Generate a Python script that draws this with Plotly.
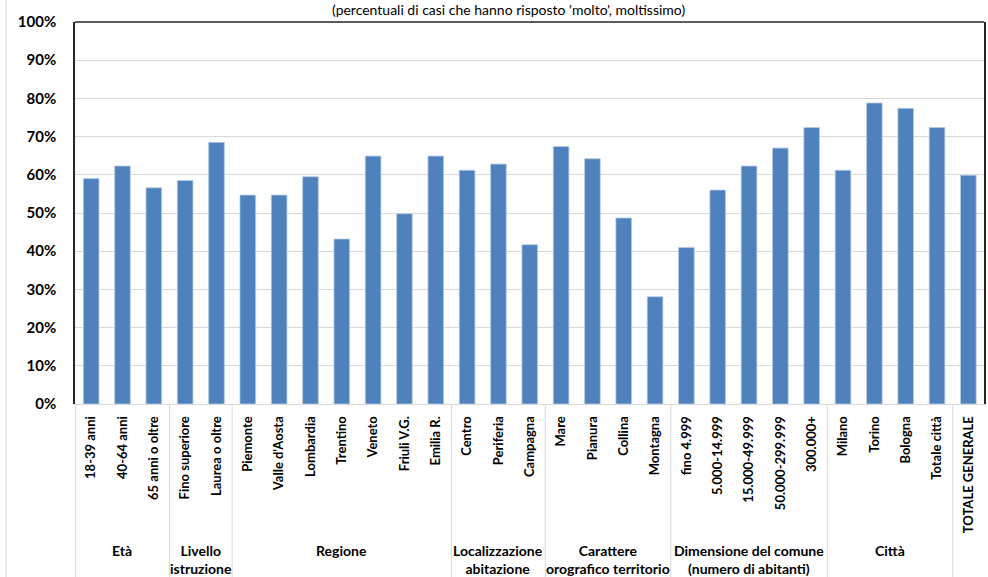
import plotly.graph_objects as go

categories = ["18-39 anni", "40-64 anni", "65 anni o oltre",
              "Fino superiore", "Laurea o oltre",
              "Piemonte", "Valle d'Aosta", "Lombardia", "Trentino", "Veneto", "Friuli V.G.", "Emilia R.",
              "Centro", "Periferia", "Campagna",
              "Mare", "Pianura", "Collina", "Montagna",
              "fino 4.999", "5.000-14.999", "15.000-49.999", "50.000-299.999", "300.000+",
              "Milano", "Torino", "Bologna", "Totale città",
              "TOTALE GENERALE"]
values = [0.590, 0.623, 0.566,
          0.585, 0.685,
          0.547, 0.547, 0.595, 0.432, 0.649, 0.498, 0.649,
          0.612, 0.628, 0.417,
          0.674, 0.642, 0.487, 0.281,
          0.410, 0.560, 0.623, 0.670, 0.724,
          0.612, 0.788, 0.774, 0.724,
          0.599]
groups = ["Età", "Livello<br>istruzione", "Regione", "Localizzazione<br>abitazione",
          "Carattere<br>orografico territorio", "Dimensione del comune<br>(numero di abitanti)",
          "Città", ""]
group_sizes = [3, 2, 7, 3, 4, 5, 4, 1]
y_ticks = [i / 10 for i in range(11)]
title_text = "(percentuali di casi che hanno risposto 'molto', moltissimo)"

FONT = "Lato"
fig = go.Figure(go.Bar(
    x=categories, y=values,
    marker=dict(color="#4f81bd", line=dict(color="#b9cde5", width=0.8)),
))

shapes = []
annotations = []
start = 0
for g, n in zip(groups, group_sizes):
    shapes.append(dict(type="line", xref="x", yref="paper", x0=start - 0.5, x1=start - 0.5,
                       y0=0, y1=-0.46, line=dict(color="#d9d9d9", width=1)))
    if g:
        annotations.append(dict(text=g, xref="x", yref="paper", x=start + (n - 1) / 2, y=-0.355,
                                yanchor="top", xanchor="center", showarrow=False,
                                font=dict(family=FONT, size=14, color="#000", weight="bold")))
    start += n

# top border of plot area
shapes.append(dict(type="line", xref="paper", yref="paper", x0=0, x1=1, y0=1, y1=1,
                   line=dict(color="#262626", width=1.5)))
# outer chart border (left)
shapes.append(dict(type="line", xref="paper", yref="paper", x0=-0.0757, x1=-0.0757, y0=-0.46, y1=1.1,
                   line=dict(color="#d9d9d9", width=1)))

annotations.append(dict(text=title_text, xref="paper", yref="paper", x=0.477, y=1.006,
                        yanchor="bottom", xanchor="center", showarrow=False,
                        font=dict(family=FONT, size=14, color="#000")))

fig.update_layout(
    width=988, height=577,
    margin=dict(l=75, r=2, t=22, b=173),
    paper_bgcolor="white", plot_bgcolor="white",
    bargap=0.5, showlegend=False,
    shapes=shapes, annotations=annotations,
    font=dict(family=FONT, color="#000"),
)
fig.update_xaxes(type="category", tickangle=-90, showline=True, linecolor="#d9d9d9", linewidth=1,
                 ticks="outside", ticklen=6, tickcolor="rgba(0,0,0,0)",
                 tickfont=dict(family=FONT, size=13, color="#000", weight="bold"),
                 showgrid=False)
fig.update_yaxes(range=[0, 1], tickvals=y_ticks, tickformat=".0%", showline=True, mirror=True,
                 linecolor="#262626", linewidth=1.5, gridcolor="#d9d9d9", gridwidth=1,
                 ticks="outside", ticklen=14, tickcolor="rgba(0,0,0,0)",
                 tickfont=dict(family=FONT, size=15, color="#000", weight="bold"),
                 zeroline=False)

fig.write_html("out.html")
